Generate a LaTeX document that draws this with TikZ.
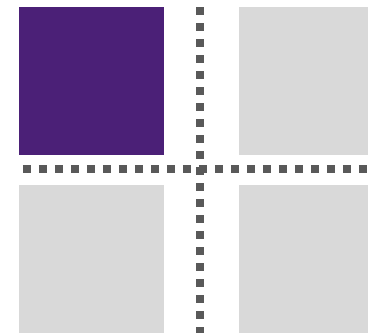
\documentclass[tikz,border=0pt]{standalone}
\usetikzlibrary{positioning}
\definecolor{qdPurple}{HTML}{4B2077}
\definecolor{qdGrey}{HTML}{D9D9D9}
\definecolor{qdDot}{HTML}{595959}
\tikzset{
  tile/.style={draw=none, fill=qdGrey, inner sep=0pt, outer sep=0pt},
  hot/.style={tile, fill=qdPurple},
  divider/.style={draw=qdDot, line width=8pt, dash pattern=on 8pt off 8pt},
}
\begin{document}
\begin{tikzpicture}[x=1pt, y=-1pt]
  \useasboundingbox (0,0) rectangle (368,333);
  % quadrants
  \fill[hot]  (19,7)    rectangle (164,155);
  \fill[tile] (239,7)   rectangle (368,155);
  \fill[tile] (19,185)  rectangle (164,333);
  \fill[tile] (239,185) rectangle (368,333);
  % dotted axes
  \coordinate (vtop) at (200.5,7.3);
  \coordinate (vbot) at (200.5,333);
  \coordinate (hleft) at (23,169);
  \coordinate (hright) at (368,169);
  \draw[divider] (hleft) -- (hright);
  \draw[divider] (vtop) -- (vbot);
\end{tikzpicture}
\end{document}
